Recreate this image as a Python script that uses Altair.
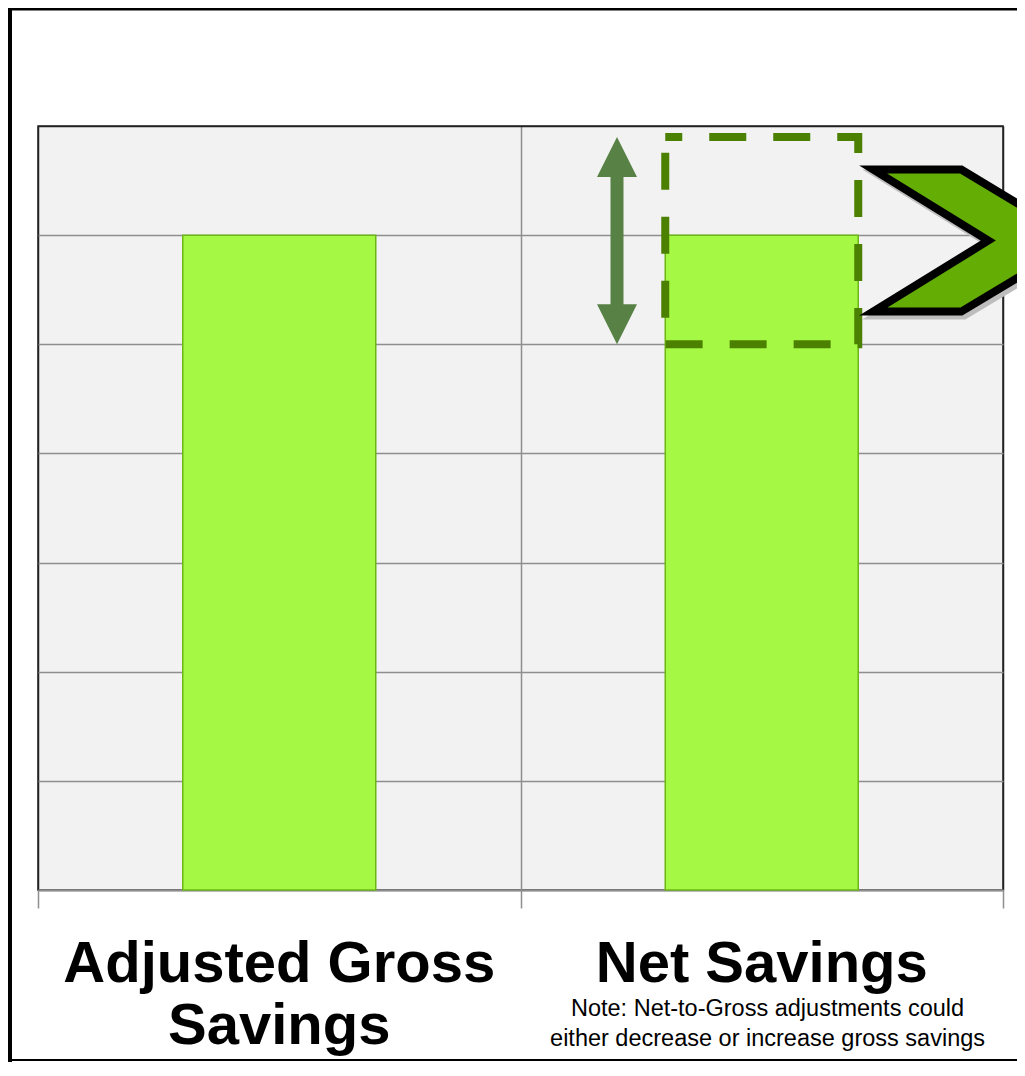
import altair as alt
import pandas as pd

# ---- data ----
categories = ["Adjusted Gross Savings", "Net Savings"]
label_lines = ["Adjusted Gross\nSavings", "Net Savings"]
savings = [6, 6]
ntg_range = [5.0, 6.9]          # possible range of net savings after NTG adjustment
note_text = "Note: Net-to-Gross adjustments could\neither decrease or increase gross savings"
y_ticks = [0, 1, 2, 3, 4, 5, 6, 7]
x_ticks = [0, 1, 2]

df = pd.DataFrame({
    "category": categories,
    "label": label_lines,
    "savings": savings,
    "idx": list(range(len(categories))),
})
df_range = pd.DataFrame({
    "category": [categories[1]],
    "idx": [1],
    "lo": [ntg_range[0]],
    "hi": [ntg_range[1]],
})
df_note = pd.DataFrame({"idx": [1], "note": [note_text]})
one = pd.DataFrame({"k": [0]})

# ---- styling ----
GRID = "#8e8e8e"
DARK = "#222222"
BAR_FILL = "#a5f843"
BAR_STROKE = "#6cb616"
DASH = "#4b8000"
ARROW = "#588245"
CHEVRON = "#63ad05"
FONT = "Liberation Sans"

x_scale = alt.Scale(domain=[0, 2], nice=False, zero=False)
y_scale = alt.Scale(domain=[0, 7], nice=False, zero=True)

x_axis = alt.Axis(
    values=x_ticks, labels=False, title=None, tickSize=18, tickColor=GRID,
    tickWidth=1.5, domainColor=GRID, domainWidth=2, grid=True,
    gridColor={"condition": {"test": "datum.value === 1", "value": GRID}, "value": DARK},
    gridWidth=1.5,
)
y_axis = alt.Axis(
    values=y_ticks, labels=False, ticks=False, domain=False, title=None, grid=True,
    gridColor={"condition": {"test": "datum.value === 7", "value": DARK}, "value": GRID},
    gridWidth=1.5,
)

bars = alt.Chart(df).transform_calculate(
    x0="datum.idx + 0.3", x1="datum.idx + 0.7"
).mark_bar(fill=BAR_FILL, stroke=BAR_STROKE, strokeWidth=1.5).encode(
    x=alt.X("x0:Q", scale=x_scale, axis=x_axis),
    x2="x1:Q",
    y=alt.Y("savings:Q", scale=y_scale, axis=y_axis),
    y2=alt.datum(0),
)

range_box = alt.Chart(df_range).transform_calculate(
    x0="datum.idx + 0.3", x1="datum.idx + 0.7"
).mark_rect(fillOpacity=0, stroke=DASH, strokeWidth=8, strokeDash=[37, 27],
            strokeDashOffset=20).encode(
    x=alt.X("x0:Q", scale=x_scale, axis=x_axis),
    x2="x1:Q",
    y=alt.Y("hi:Q", scale=y_scale, axis=y_axis),
    y2="lo:Q",
)

arrow_base = alt.Chart(df_range).transform_calculate(ax="datum.idx + 0.2")
shaft = arrow_base.mark_rule(color=ARROW, strokeWidth=13, yOffset=30, y2Offset=-30).encode(
    x=alt.X("ax:Q", scale=x_scale, axis=x_axis),
    y=alt.Y("hi:Q", scale=y_scale, axis=y_axis),
    y2="lo:Q",
)
head_up = arrow_base.mark_point(
    shape="M0,0L1,2L-1,2Z", size=1600, filled=True, fill=ARROW, opacity=1, strokeWidth=0
).encode(
    x=alt.X("ax:Q", scale=x_scale, axis=x_axis),
    y=alt.Y("hi:Q", scale=y_scale, axis=y_axis),
)
head_down = arrow_base.mark_point(
    shape="M0,0L1,-2L-1,-2Z", size=1600, filled=True, fill=ARROW, opacity=1, strokeWidth=0
).encode(
    x=alt.X("ax:Q", scale=x_scale, axis=x_axis),
    y=alt.Y("lo:Q", scale=y_scale, axis=y_axis),
)

chev_path = "M15,-71L103,-71L221,0L103,71L15,71L130,0Z"
chev_base = alt.Chart(df_range).transform_calculate(
    cx="datum.idx + 0.7", cy="(datum.lo + datum.hi) / 2"
)
chev_shadow = chev_base.mark_point(
    shape=chev_path, size=4, filled=True, fill="#bdbdbd", stroke="#bdbdbd",
    strokeWidth=8, opacity=1, xOffset=3, yOffset=4, strokeJoin="miter",
).encode(
    x=alt.X("cx:Q", scale=x_scale, axis=x_axis),
    y=alt.Y("cy:Q", scale=y_scale, axis=y_axis),
)
chevron = chev_base.mark_point(
    shape=chev_path, size=4, filled=True, fill=CHEVRON, stroke="black",
    strokeWidth=8, opacity=1, strokeJoin="miter",
).encode(
    x=alt.X("cx:Q", scale=x_scale, axis=x_axis),
    y=alt.Y("cy:Q", scale=y_scale, axis=y_axis),
)

labels = alt.Chart(df).transform_calculate(cx="datum.idx + 0.5").mark_text(
    font=FONT, fontSize=58, fontWeight="bold", color="black", align="center",
    baseline="alphabetic", lineBreak="\n", lineHeight=62,
).encode(
    x=alt.X("cx:Q", scale=x_scale, axis=x_axis),
    y=alt.value(856),
    text="label:N",
)

note = alt.Chart(df_note).transform_calculate(cx="datum.idx + 0.512").mark_text(
    font=FONT, fontSize=23.5, color="black", align="center",
    baseline="alphabetic", lineBreak="\n", lineHeight=30,
).encode(
    x=alt.X("cx:Q", scale=x_scale, axis=x_axis),
    y=alt.value(889.5),
    text="note:N",
)

frame_top = alt.Chart(one).mark_rule(color="black", strokeWidth=3).encode(
    x=alt.value(-30), x2=alt.value(979), y=alt.value(-117)
)
frame_left = alt.Chart(one).mark_rule(color="black", strokeWidth=4).encode(
    x=alt.value(-28), y=alt.value(-118), y2=alt.value(936)
)
frame_bottom = alt.Chart(one).mark_rule(color="black", strokeWidth=2).encode(
    x=alt.value(-30), x2=alt.value(979), y=alt.value(934)
)

chart = alt.layer(
    bars, range_box, shaft, head_up, head_down, chev_shadow, chevron,
    labels, note, frame_top, frame_left, frame_bottom,
).properties(
    width=965, height=764,
    autosize=alt.AutoSizeParams(type="none"),
    padding={"left": 30, "top": 118, "right": 14, "bottom": 172},
    background="white",
).configure_view(
    fill="#f2f2f2", stroke=DARK, strokeWidth=1.5
)

chart.save("out.html", embed_options={"renderer": "svg", "actions": False})
